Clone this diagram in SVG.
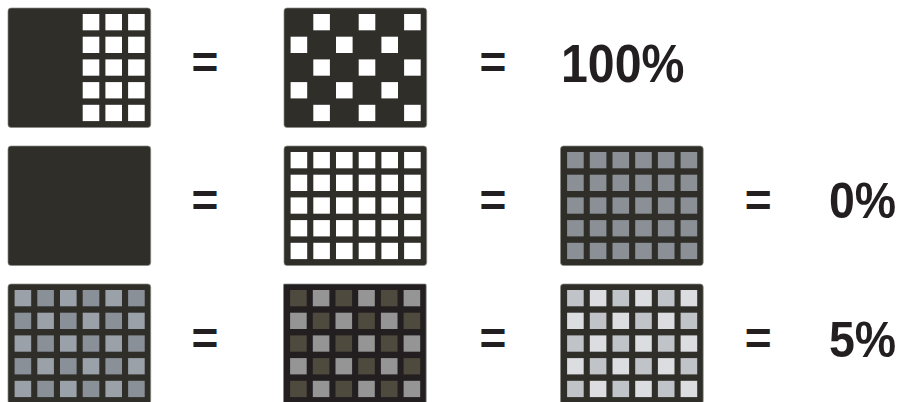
<svg xmlns="http://www.w3.org/2000/svg" xmlns:xlink="http://www.w3.org/1999/xlink" width="901" height="402" viewBox="0 0 901 402">
<style>
.panel{fill:#2f2e29;stroke:#8a8985;stroke-width:0.7}
.dark{fill:#231f20}
.t{font-family:"Liberation Sans",Arial,sans-serif;font-weight:bold;fill:#231f20}
.eq{font-size:46px;text-anchor:middle}
</style>
<defs>
<g id="sqA">
<rect x="6.6" y="6" width="16.6" height="16.3"/><rect x="52" y="6" width="16.6" height="16.3"/><rect x="97.4" y="6" width="16.6" height="16.3"/>
<rect x="29.3" y="28.7" width="16.6" height="16.3"/><rect x="74.7" y="28.7" width="16.6" height="16.3"/><rect x="120.1" y="28.7" width="16.6" height="16.3"/>
<rect x="6.6" y="51.4" width="16.6" height="16.3"/><rect x="52" y="51.4" width="16.6" height="16.3"/><rect x="97.4" y="51.4" width="16.6" height="16.3"/>
<rect x="29.3" y="74.1" width="16.6" height="16.3"/><rect x="74.7" y="74.1" width="16.6" height="16.3"/><rect x="120.1" y="74.1" width="16.6" height="16.3"/>
<rect x="6.6" y="96.8" width="16.6" height="16.3"/><rect x="52" y="96.8" width="16.6" height="16.3"/><rect x="97.4" y="96.8" width="16.6" height="16.3"/>
</g>
<g id="sqB">
<rect x="29.3" y="6" width="16.6" height="16.3"/><rect x="74.7" y="6" width="16.6" height="16.3"/><rect x="120.1" y="6" width="16.6" height="16.3"/>
<rect x="6.6" y="28.7" width="16.6" height="16.3"/><rect x="52" y="28.7" width="16.6" height="16.3"/><rect x="97.4" y="28.7" width="16.6" height="16.3"/>
<rect x="29.3" y="51.4" width="16.6" height="16.3"/><rect x="74.7" y="51.4" width="16.6" height="16.3"/><rect x="120.1" y="51.4" width="16.6" height="16.3"/>
<rect x="6.6" y="74.1" width="16.6" height="16.3"/><rect x="52" y="74.1" width="16.6" height="16.3"/><rect x="97.4" y="74.1" width="16.6" height="16.3"/>
<rect x="29.3" y="96.8" width="16.6" height="16.3"/><rect x="74.7" y="96.8" width="16.6" height="16.3"/><rect x="120.1" y="96.8" width="16.6" height="16.3"/>
</g>
<g id="sqR">
<rect x="74.7" y="6" width="16.6" height="16.3"/><rect x="97.4" y="6" width="16.6" height="16.3"/><rect x="120.1" y="6" width="16.6" height="16.3"/>
<rect x="74.7" y="28.7" width="16.6" height="16.3"/><rect x="97.4" y="28.7" width="16.6" height="16.3"/><rect x="120.1" y="28.7" width="16.6" height="16.3"/>
<rect x="74.7" y="51.4" width="16.6" height="16.3"/><rect x="97.4" y="51.4" width="16.6" height="16.3"/><rect x="120.1" y="51.4" width="16.6" height="16.3"/>
<rect x="74.7" y="74.1" width="16.6" height="16.3"/><rect x="97.4" y="74.1" width="16.6" height="16.3"/><rect x="120.1" y="74.1" width="16.6" height="16.3"/>
<rect x="74.7" y="96.8" width="16.6" height="16.3"/><rect x="97.4" y="96.8" width="16.6" height="16.3"/><rect x="120.1" y="96.8" width="16.6" height="16.3"/>
</g>
</defs>
<rect width="901" height="402" fill="#ffffff"/>

<g id="panel-r1c1" transform="translate(8,8)">
<rect class="panel" width="142.7" height="119.5" rx="3"/>
<use xlink:href="#sqR" fill="#ffffff"/>
</g>
<g id="panel-r1c2" transform="translate(284,8)">
<rect class="panel" width="142.7" height="119.5" rx="3"/>
<use xlink:href="#sqB" fill="#ffffff"/>
</g>

<g id="panel-r2c1" transform="translate(8,146)">
<rect class="panel" width="142.7" height="119.5" rx="3"/>
</g>
<g id="panel-r2c2" transform="translate(284,146)">
<rect class="panel" width="142.7" height="119.5" rx="3"/>
<use xlink:href="#sqA" fill="#ffffff"/>
<use xlink:href="#sqB" fill="#ffffff"/>
</g>
<g id="panel-r2c3" transform="translate(560.5,146)">
<rect class="panel" width="142.7" height="119.5" rx="3"/>
<use xlink:href="#sqA" fill="#8b9097"/>
<use xlink:href="#sqB" fill="#8b9097"/>
</g>

<g id="panel-r3c1" transform="translate(8,284)">
<rect class="panel" width="142.7" height="120" rx="3"/>
<use xlink:href="#sqA" fill="#9aa1a8"/>
<use xlink:href="#sqB" fill="#8a9098"/>
</g>
<g id="panel-r3c2" transform="translate(283.5,284)">
<rect class="panel dark" width="142.7" height="120" rx="1"/>
<use xlink:href="#sqA" fill="#4f4a3e"/>
<use xlink:href="#sqB" fill="#959595"/>
</g>
<g id="panel-r3c3" transform="translate(560.5,284)">
<rect class="panel" width="142.7" height="120" rx="3"/>
<use xlink:href="#sqA" fill="#c0c3c7"/>
<use xlink:href="#sqB" fill="#dcdde0"/>
</g>

<g id="labels">
<text class="t eq" x="205" y="78">=</text>
<text class="t eq" x="493" y="78">=</text>
<text class="t eq" x="205" y="216">=</text>
<text class="t eq" x="493" y="216">=</text>
<text class="t eq" x="758.3" y="216">=</text>
<text class="t eq" x="205" y="354">=</text>
<text class="t eq" x="493" y="354">=</text>
<text class="t eq" x="758.3" y="354">=</text>
<text class="t" font-size="53.6" transform="translate(561,81.7) scale(0.9,1)">100%</text>
<text class="t" font-size="50" transform="translate(829,218.3) scale(0.93,1)">0%</text>
<text class="t" font-size="50" transform="translate(829,356.5) scale(0.93,1)">5%</text>
</g>
</svg>
